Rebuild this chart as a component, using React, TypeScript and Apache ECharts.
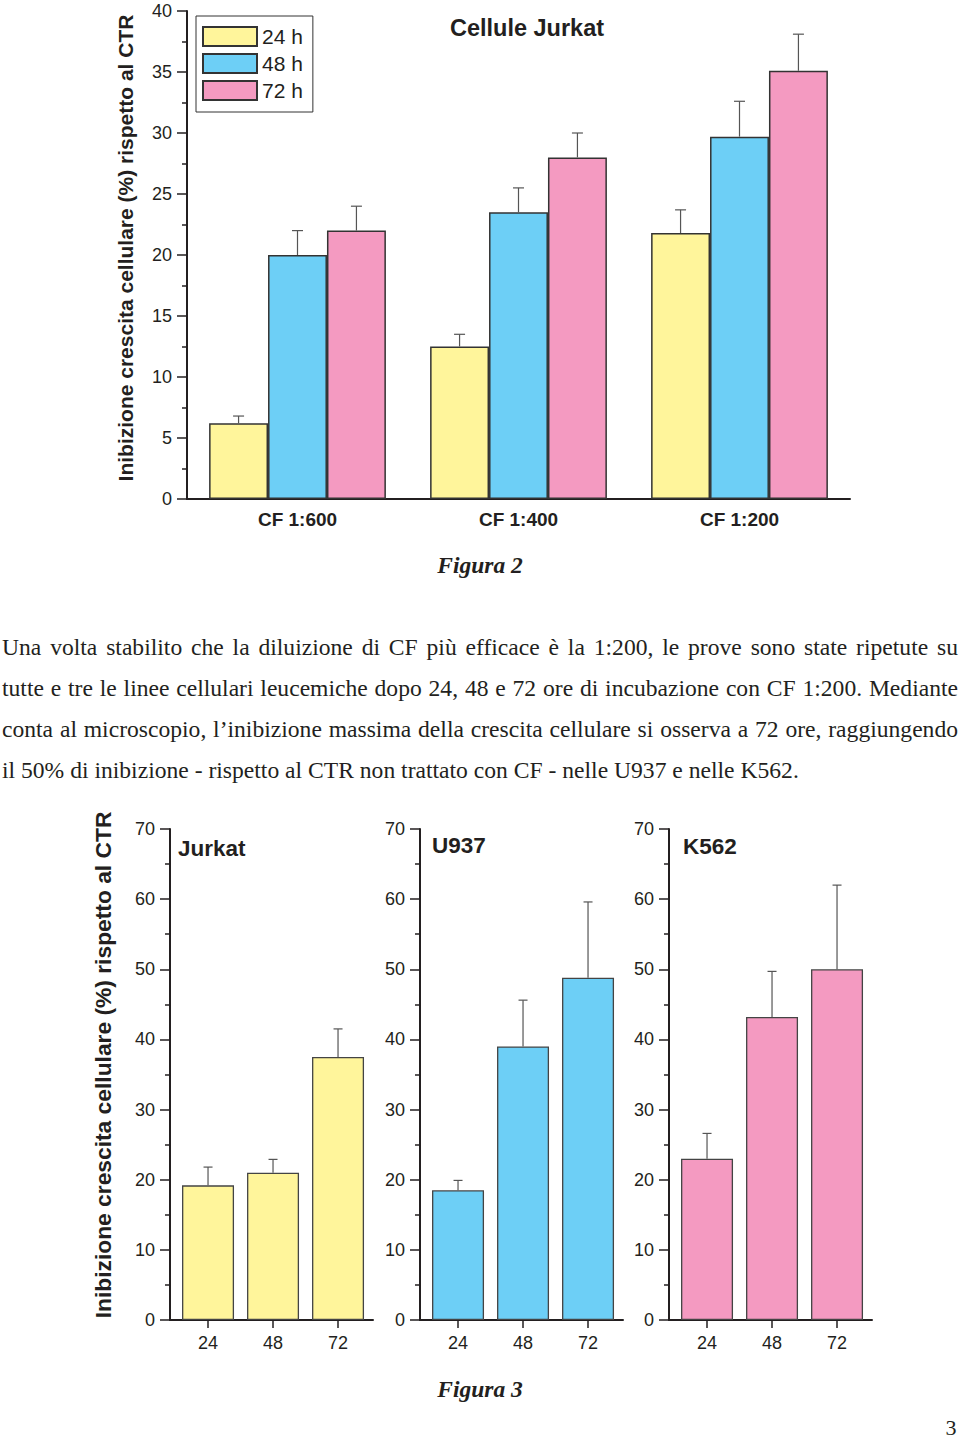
import React, { useEffect, useRef } from "react";
import * as echarts from "echarts";

// ---------- Figure 2 data ----------
const topCategories = ["CF 1:600", "CF 1:400", "CF 1:200"];
const topSeriesNames = ["24 h", "48 h", "72 h"];
const top24 = [6.2, 12.5, 21.8];
const top24Err = [6.8, 13.5, 23.7];
const top48 = [20.0, 23.5, 29.7];
const top48Err = [22.0, 25.5, 32.6];
const top72 = [22.0, 28.0, 35.1];
const top72Err = [24.0, 30.0, 38.1];
const topYTicks = [0, 5, 10, 15, 20, 25, 30, 35, 40];

// ---------- Figure 3 data ----------
const hours = ["24", "48", "72"];
const panelTitles = ["Jurkat", "U937", "K562"];
const jurkat = [19.2, 21.0, 37.5];
const jurkatErr = [21.8, 22.9, 41.5];
const u937 = [18.5, 39.0, 48.8];
const u937Err = [19.9, 45.6, 59.6];
const k562 = [23.0, 43.2, 50.0];
const k562Err = [26.6, 49.7, 62.0];
const bottomYTicks = [0, 10, 20, 30, 40, 50, 60, 70];

const paragraphLines = [
  "Una volta stabilito che la diluizione di CF più efficace è la 1:200, le prove sono state ripetute su",
  "tutte e tre le linee cellulari leucemiche dopo 24, 48 e 72 ore di incubazione con CF 1:200. Mediante",
  "conta al microscopio, l’inibizione massima della crescita cellulare si osserva a 72 ore, raggiungendo",
  "il 50% di inibizione - rispetto al CTR non trattato con CF - nelle U937 e nelle K562.",
];

const YELLOW = "#fff59b";
const BLUE = "#6dcff6";
const PINK = "#f49ac1";
const INK = "#231f20";
const SANS = '"Liberation Sans", Arial, sans-serif';
const SERIF = '"Liberation Serif", "Times New Roman", serif';
const Y_LABEL = "Inibizione crescita cellulare (%) rispetto al CTR";

export default function App() {
  const ref = useRef<HTMLDivElement>(null);
  const paraRef = useRef<HTMLDivElement>(null);

  useEffect(() => {
    // fit paragraph lines that would overflow the text width
    if (paraRef.current) {
      Array.from(paraRef.current.children).forEach((el: any) => {
        const inner = el.firstChild as HTMLElement;
        if (inner && inner.offsetWidth > 956) {
          const k = 956 / inner.offsetWidth;
          el.style.fontSize = 23.6 * k + "px";
        }
      });
    }
    if (!ref.current) return;
    const chart = echarts.init(ref.current, null, { renderer: "svg" });

    const topVals = [top24, top48, top72];
    const topErrs = [top24Err, top48Err, top72Err];
    const topColors = [YELLOW, BLUE, PINK];

    const bottomVals = [jurkat, u937, k562];
    const bottomErrs = [jurkatErr, u937Err, k562Err];
    const bottomColors = [YELLOW, BLUE, PINK];
    const bottomLefts = [170, 420, 669];

    const axisLineStyle = { color: INK, width: 2 };

    const grids: any[] = [{ left: 187, top: 11, width: 663, height: 488 }];
    const xAxes: any[] = [
      {
        type: "category",
        gridIndex: 0,
        data: topCategories,
        axisLine: { lineStyle: axisLineStyle },
        axisTick: { show: false },
        axisLabel: {
          fontFamily: SANS,
          fontWeight: "bold",
          fontSize: 19,
          color: INK,
          margin: 11,
        },
      },
    ];
    const yAxes: any[] = [
      {
        type: "value",
        gridIndex: 0,
        min: topYTicks[0],
        max: topYTicks[topYTicks.length - 1],
        interval: topYTicks[1] - topYTicks[0],
        axisLine: { show: true, onZero: false, lineStyle: axisLineStyle },
        axisTick: { show: true, length: 10, lineStyle: { color: INK, width: 1.5 } },
        minorTick: { show: true, splitNumber: 2, length: 5, lineStyle: { color: INK, width: 1.5 } },
        splitLine: { show: false },
        axisLabel: { fontFamily: SANS, fontSize: 18, color: INK, margin: 15 },
      },
    ];

    const series: any[] = [];

    topSeriesNames.forEach((name, s) => {
      series.push({
        type: "bar",
        name,
        xAxisIndex: 0,
        yAxisIndex: 0,
        data: topVals[s],
        barGap: "0%",
        barCategoryGap: "20%",
        itemStyle: { color: topColors[s], borderColor: "#333", borderWidth: 1.5 },
        z: 2,
      });
    });

    const topErrData: any[] = [];
    topSeriesNames.forEach((_, s) => {
      topVals[s].forEach((v, c) => {
        topErrData.push([c, v, topErrs[s][c], s]);
      });
    });

    series.push({
      type: "custom",
      xAxisIndex: 0,
      yAxisIndex: 0,
      z: 5,
      data: topErrData,
      renderItem: (params: any, api: any) => {
        const c = api.value(0);
        const v = api.value(1);
        const e = api.value(2);
        const s = api.value(3);
        const band = api.size([1, 0])[0];
        const bw = (band * 0.8) / 3;
        const base = api.coord([c, v]);
        const top = api.coord([c, e]);
        const x = base[0] + (s - 1) * bw;
        const cap = 5.5;
        const st = { stroke: "#555", lineWidth: 1.2 };
        return {
          type: "group",
          children: [
            { type: "line", shape: { x1: x, y1: top[1], x2: x, y2: base[1] }, style: st },
            { type: "line", shape: { x1: x - cap, y1: top[1], x2: x + cap, y2: top[1] }, style: st },
          ],
        };
      },
    });

    bottomLefts.forEach((left, p) => {
      const gi = p + 1;
      grids.push({ left, top: 829, width: 203, height: 491 });
      xAxes.push({
        type: "value",
        gridIndex: gi,
        min: -0.585,
        max: 2.538,
        splitLine: { show: false },
        axisLine: { onZero: false, lineStyle: axisLineStyle },
        axisTick: { show: true, customValues: [0, 1, 2], length: 8, lineStyle: { color: INK, width: 1.5 } },
        axisLabel: {
          customValues: [0, 1, 2],
          formatter: (v: number) => hours[Math.round(v)] ?? "",
          fontFamily: SANS,
          fontSize: 18,
          color: INK,
          margin: 14,
        },
      });
      yAxes.push({
        type: "value",
        gridIndex: gi,
        min: bottomYTicks[0],
        max: bottomYTicks[bottomYTicks.length - 1],
        interval: bottomYTicks[1] - bottomYTicks[0],
        axisLine: { show: true, onZero: false, lineStyle: axisLineStyle },
        axisTick: { show: true, length: 10, lineStyle: { color: INK, width: 1.5 } },
        minorTick: { show: true, splitNumber: 2, length: 5, lineStyle: { color: INK, width: 1.5 } },
        splitLine: { show: false },
        axisLabel: { fontFamily: SANS, fontSize: 18, color: INK, margin: 15 },
      });
      series.push({
        type: "bar",
        name: panelTitles[p],
        xAxisIndex: gi,
        yAxisIndex: gi,
        data: bottomVals[p].map((v, i) => [i, v]),
        barWidth: 52,
        itemStyle: { color: bottomColors[p], borderColor: "#444", borderWidth: 1.3 },
        z: 2,
      });
      series.push({
        type: "custom",
        xAxisIndex: gi,
        yAxisIndex: gi,
        z: 5,
        data: bottomVals[p].map((v, i) => [i, v, bottomErrs[p][i]]),
        renderItem: (params: any, api: any) => {
          const base = api.coord([api.value(0), api.value(1)]);
          const top = api.coord([api.value(0), api.value(2)]);
          const x = base[0];
          const cap = 4.5;
          const st = { stroke: "#555", lineWidth: 1.2 };
          return {
            type: "group",
            children: [
              { type: "line", shape: { x1: x, y1: top[1], x2: x, y2: base[1] }, style: st },
              { type: "line", shape: { x1: x - cap, y1: top[1], x2: x + cap, y2: top[1] }, style: st },
            ],
          };
        },
      });
    });

    const centered = (text: string, x: number, y: number, font: string, rotation = 0) => ({
      type: "text",
      x,
      y,
      rotation,
      style: { text, font, fill: INK, textAlign: "center", textVerticalAlign: "middle" },
    });

    const graphic: any[] = [
      centered("Cellule Jurkat", 527, 28, `bold 23.5px ${SANS}`),
      centered(Y_LABEL, 125, 248, `bold 21px ${SANS}`, Math.PI / 2),
      centered(Y_LABEL, 103, 1065, `bold 22.8px ${SANS}`, Math.PI / 2),
      centered("Figura 2", 480, 565, `italic bold 23.5px ${SERIF}`),
      centered("Figura 3", 480, 1389, `italic bold 23.5px ${SERIF}`),
      centered("3", 951, 1427, `22px ${SERIF}`),
    ];
    const titlePos = [
      [178, 848],
      [432, 845],
      [683, 846],
    ];
    panelTitles.forEach((t, i) => {
      graphic.push({
        type: "text",
        x: titlePos[i][0],
        y: titlePos[i][1],
        style: {
          text: t,
          font: `bold 22.5px ${SANS}`,
          fill: INK,
          textAlign: "left",
          textVerticalAlign: "middle",
        },
      });
    });

    chart.setOption({
      animation: false,
      backgroundColor: "#ffffff",
      grid: grids,
      xAxis: xAxes,
      yAxis: yAxes,
      series,
      legend: {
        data: topSeriesNames,
        orient: "vertical",
        left: 196,
        top: 16,
        icon: "rect",
        itemWidth: 54,
        itemHeight: 19,
        itemGap: 6,
        padding: [10, 10, 11, 6],
        borderColor: "#333",
        borderWidth: 1,
        selectedMode: false,
        textStyle: { fontFamily: SANS, fontSize: 21, color: INK },
      },
      graphic,
    });

    return () => chart.dispose();
  }, []);

  return (
    <div style={{ position: "absolute", left: 0, top: 0, width: 960, height: 1440, background: "#fff" }}>
      <div ref={ref} style={{ position: "absolute", left: 0, top: 0, width: 960, height: 1440 }} />
      <div
        ref={paraRef}
        style={{
          position: "absolute",
          left: 2,
          top: 627,
          width: 956,
          fontFamily: SERIF,
          fontSize: 23.6,
          lineHeight: "41px",
          color: INK,
        }}
      >
        {paragraphLines.map((l, i) => (
          <div
            key={i}
            style={{
              height: 41,
              whiteSpace: "nowrap",
              textAlign: "justify",
              textAlignLast: i < paragraphLines.length - 1 ? "justify" : "left",
            }}
          >
            <span>{l}</span>
          </div>
        ))}
      </div>
    </div>
  );
}
